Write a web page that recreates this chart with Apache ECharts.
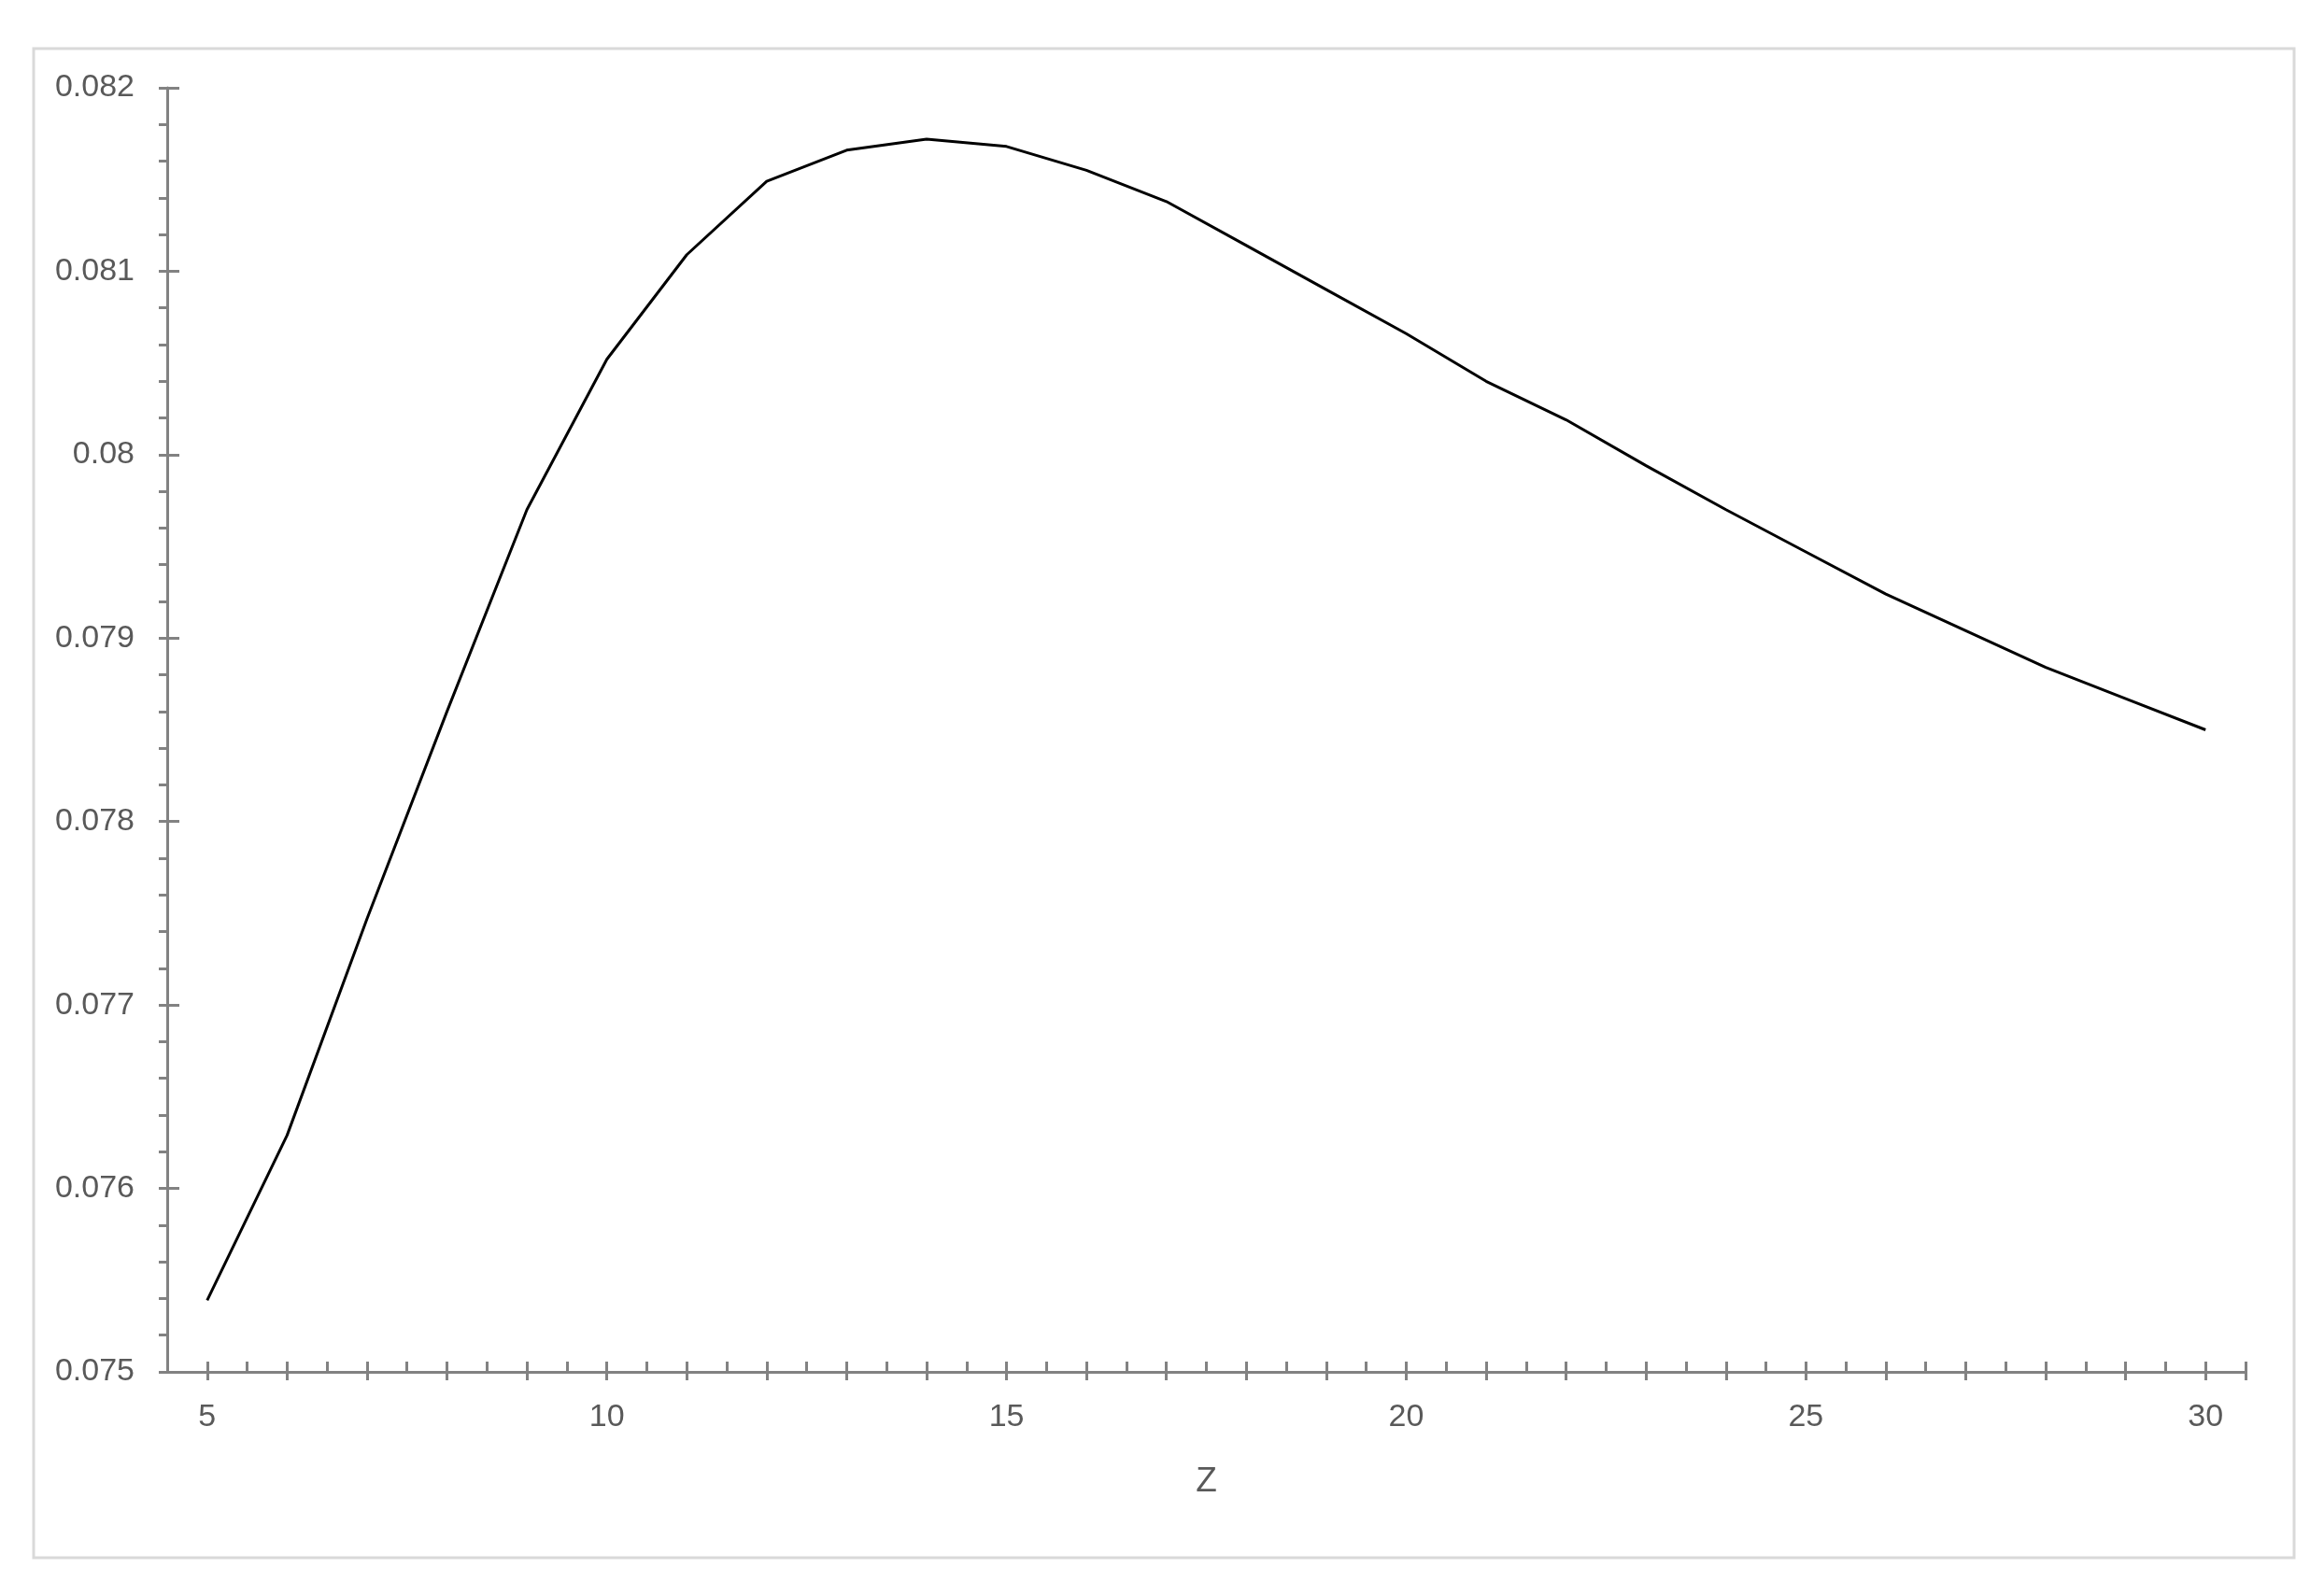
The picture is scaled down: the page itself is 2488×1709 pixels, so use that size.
<!DOCTYPE html>
<html>
<head>
<meta charset="utf-8">
<script src="https://cdn.jsdelivr.net/npm/echarts@6/dist/echarts.min.js"></script>
<style type="text/css">
    *{
        padding: 0;
        margin: 0;
    }
    body{
        background: #fff;
        overflow: hidden;
    }
    #chart{
        width: 2488px;
        height: 1709px;
    }
</style>
</head>
<body>
<div id="chart"></div>
<script type="text/javascript">
    // data
    let zValues = [5, 6, 7, 8, 9, 10, 11, 12, 13, 14, 15, 16, 17, 18, 19, 20, 21, 22, 23, 24, 25, 26, 27, 28, 29, 30];
    let yValues = [0.07539, 0.07629, 0.07747, 0.07860, 0.07970, 0.08052, 0.08109, 0.08149, 0.08166, 0.08172,
                   0.08168, 0.08155, 0.08138, 0.08114, 0.08090, 0.08066, 0.08040, 0.08019, 0.07994, 0.07970,
                   0.07947, 0.07924, 0.07904, 0.07884, 0.07867, 0.07850];
    let xLabelValues = [5, 10, 15, 20, 25, 30];
    let xMajorTicks = [5, 6, 7, 8, 9, 10, 11, 12, 13, 14, 15, 16, 17, 18, 19, 20, 21, 22, 23, 24, 25, 26, 27, 28, 29, 30, 30.5];
    let xMinorTicks = [5, 5.5, 6, 6.5, 7, 7.5, 8, 8.5, 9, 9.5, 10, 10.5, 11, 11.5, 12, 12.5, 13, 13.5, 14, 14.5, 15, 15.5,
                       16, 16.5, 17, 17.5, 18, 18.5, 19, 19.5, 20, 20.5, 21, 21.5, 22, 22.5, 23, 23.5, 24, 24.5, 25, 25.5,
                       26, 26.5, 27, 27.5, 28, 28.5, 29, 29.5, 30, 30.5];

    let axisColor = '#828282';
    let textColor = '#595959';
    let font = '"Liberation Sans", Arial, sans-serif';

    let myChart = echarts.init(document.getElementById('chart'));
    let option = {
        animation: false,
        backgroundColor: '#fff',
        graphic: [{
            type: 'rect',
            shape: {x: 36, y: 52, width: 2420, height: 1616},
            style: {fill: 'none', stroke: '#d9d9d9', lineWidth: 3},
            silent: true
        }],
        grid: {
            left: 179,
            right: 84,
            top: 94,
            bottom: 240
        },
        xAxis: [
            {
                type: 'value',
                min: 4.5,
                max: 30.5,
                position: 'bottom',
                name: 'Z',
                nameLocation: 'middle',
                nameGap: 99,
                nameTextStyle: {color: textColor, fontSize: 37, fontFamily: font},
                axisLine: {show: true, lineStyle: {color: axisColor, width: 3}},
                axisTick: {show: true, customValues: xMajorTicks, length: 9, lineStyle: {color: axisColor, width: 3}},
                axisLabel: {customValues: xLabelValues, margin: 32, color: textColor, fontSize: 34, fontFamily: font},
                splitLine: {show: false}
            },
            {
                type: 'value',
                min: 4.5,
                max: 30.5,
                position: 'bottom',
                axisLine: {show: false},
                axisTick: {show: true, inside: true, customValues: xMinorTicks, length: 11, lineStyle: {color: axisColor, width: 3}},
                axisLabel: {show: false},
                splitLine: {show: false}
            }
        ],
        yAxis: [
            {
                type: 'value',
                min: 0.075,
                max: 0.082,
                interval: 0.001,
                position: 'left',
                axisLine: {show: true, lineStyle: {color: axisColor, width: 3}},
                axisTick: {show: true, length: 9, lineStyle: {color: axisColor, width: 3}},
                minorTick: {show: true, splitNumber: 5, length: 9, lineStyle: {color: axisColor, width: 3}},
                axisLabel: {margin: 35, color: textColor, fontSize: 34, fontFamily: font},
                splitLine: {show: false},
                minorSplitLine: {show: false}
            },
            {
                type: 'value',
                min: 0.075,
                max: 0.082,
                interval: 0.001,
                position: 'left',
                axisLine: {show: false},
                axisTick: {show: true, inside: true, length: 13, lineStyle: {color: axisColor, width: 3}},
                axisLabel: {show: false},
                splitLine: {show: false}
            }
        ],
        series: [{
            type: 'line',
            xAxisIndex: 0,
            yAxisIndex: 0,
            data: zValues.map(function (z, i) { return [z, yValues[i]]; }),
            symbol: 'none',
            smooth: false,
            lineStyle: {color: '#000', width: 3}
        }]
    };
    myChart.setOption(option);
</script>
</body>
</html>
